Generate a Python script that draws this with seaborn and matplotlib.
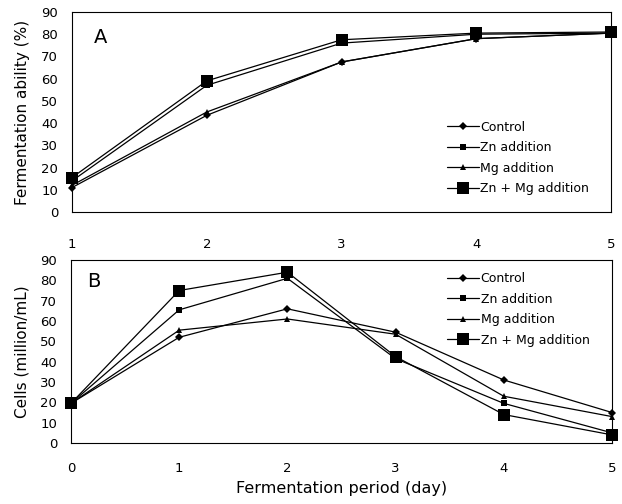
import matplotlib
matplotlib.use("Agg")
import matplotlib.pyplot as plt
import seaborn as sns
import pandas as pd

series = ["Control", "Zn addition", "Mg addition", "Zn + Mg addition"]
days_a = [1, 2, 3, 4, 5]
a_control = [11, 43.5, 67.5, 78, 80.5]
a_zn = [14, 57, 76, 80, 80.5]
a_mg = [12, 45, 67.5, 78, 80.5]
a_znmg = [15.5, 59, 77.5, 80.5, 81]

days_b = [0, 1, 2, 3, 4, 5]
b_control = [19.5, 52, 66, 54.5, 31, 15]
b_zn = [19.5, 65.5, 81, 41.5, 19.5, 5]
b_mg = [19.5, 55.5, 61, 53.5, 23, 13]
b_znmg = [19.5, 75, 84, 42.5, 14, 4]

sns.set_theme(style="white")
plt.rcParams['font.family'] = ['DejaVu Sans']
plt.rcParams['text.color'] = 'black'
plt.rcParams['axes.labelcolor'] = 'black'
plt.rcParams['xtick.color'] = 'black'
plt.rcParams['ytick.color'] = 'black'

markers = {"Control": "D", "Zn addition": "s", "Mg addition": "^", "Zn + Mg addition": "s"}
msize = {"Control": 4, "Zn addition": 4.5, "Mg addition": 5, "Zn + Mg addition": 8}

def make_df(days, vals):
    rows = []
    for s, v in zip(series, vals):
        for d, y in zip(days, v):
            rows.append({"day": d, "value": y, "series": s})
    return pd.DataFrame(rows)

df_a = make_df(days_a, [a_control, a_zn, a_mg, a_znmg])
df_b = make_df(days_b, [b_control, b_zn, b_mg, b_znmg])

fig = plt.figure(figsize=(6.22, 5.04), dpi=100)
ax1 = fig.add_axes([0.1158, 0.5794, 0.8666, 0.3968])
ax2 = fig.add_axes([0.1141, 0.1210, 0.8698, 0.3631])

def draw(ax, df, days, label, ylabel, lx, ly, xpad):
    for s in series:
        sub = df[df.series == s]
        sns.lineplot(data=sub, x="day", y="value", ax=ax, color="black",
                     marker=markers[s], markersize=msize[s], linewidth=0.9,
                     markeredgewidth=0, label=s, clip_on=False, legend=False)
    ax.set_xlim(days[0], days[-1])
    ax.set_ylim(0, 90)
    ax.set_yticks(range(0, 91, 10))
    ax.set_xticks(days)
    ax.tick_params(axis='y', direction='in', length=3, width=0.8, labelsize=9.5, pad=10, color='black')
    ax.tick_params(axis='x', length=0, labelsize=9.5, pad=xpad)
    for sp in ax.spines.values():
        sp.set_color('black')
        sp.set_linewidth(0.8)
    ax.set_ylabel(ylabel, fontsize=11, labelpad=8)
    ax.set_xlabel("")
    ax.text(lx, ly, label, transform=ax.transAxes, fontsize=14, va='center', ha='left')

draw(ax1, df_a, days_a, "A", "Fermentation ability (%)", 0.041, 0.87, 19)
draw(ax2, df_b, days_b, "B", "Cells (million/mL)", 0.03, 0.885, 14)
ax2.set_xlabel("Fermentation period (day)", fontsize=11.5, labelpad=4)

leg_kw = dict(frameon=False, fontsize=9, handlelength=2.6, handletextpad=0.1,
              labelspacing=0.6, borderpad=0, borderaxespad=0)
ax1.legend(loc="center left", bbox_to_anchor=(0.695, 0.27), **leg_kw)
ax2.legend(loc="center left", bbox_to_anchor=(0.695, 0.73), **leg_kw)

fig.savefig("out.png", dpi=100, facecolor="white")
